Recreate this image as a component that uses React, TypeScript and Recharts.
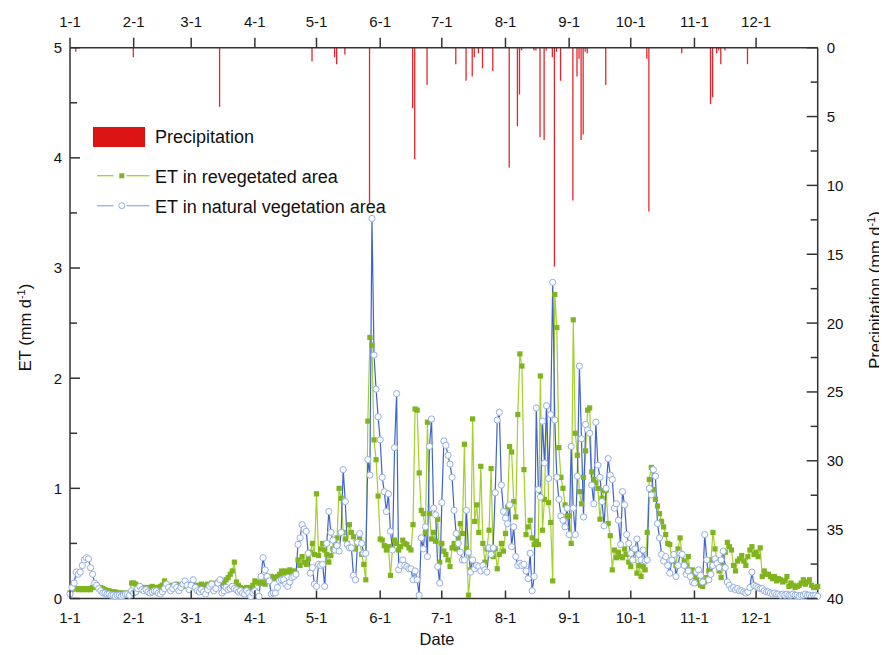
import {
    ComposedChart,
    Bar,
    Line,
    XAxis,
    YAxis,
} from 'recharts';

const FONT = '"Liberation Sans", Arial, sans-serif';

// first day of each month (day index 0 = 1 January)
const monthStarts = [0, 31, 59, 90, 120, 151, 181, 212, 243, 273, 304, 334];
const monthLabels = ['1-1', '2-1', '3-1', '4-1', '5-1', '6-1', '7-1', '8-1', '9-1', '10-1', '11-1', '12-1'];

const etTicks = [0, 0.5, 1, 1.5, 2, 2.5, 3, 3.5, 4, 4.5, 5];
const precipTicks = [0, 2.5, 5, 7.5, 10, 12.5, 15, 17.5, 20, 22.5, 25, 27.5, 30, 32.5, 35, 37.5, 40];

// daily ET in revegetated area (mm/d), one row per month
const etRevegetated = [
    [0.05, 0.08, 0.09, 0.09, 0.08, 0.09, 0.08, 0.09, 0.08, 0.09, 0.08, 0.1, 0.1, 0.11, 0.1, 0.1, 0.09, 0.08, 0.07, 0.07, 0.06, 0.06, 0.06, 0.05, 0.05, 0.05, 0.04, 0.05, 0.04, 0.05, 0.14],
    [0.14, 0.13, 0.1, 0.11, 0.09, 0.1, 0.08, 0.1, 0.09, 0.11, 0.1, 0.09, 0.1, 0.11, 0.12, 0.16, 0.12, 0.11, 0.1, 0.12, 0.11, 0.13, 0.1, 0.12, 0.11, 0.13, 0.12, 0.11],
    [0.13, 0.12, 0.1, 0.12, 0.11, 0.13, 0.12, 0.1, 0.13, 0.12, 0.14, 0.12, 0.13, 0.15, 0.16, 0.14, 0.15, 0.17, 0.19, 0.22, 0.25, 0.33, 0.15, 0.12, 0.1, 0.09, 0.08, 0.1, 0.09, 0.1, 0.12],
    [0.16, 0.15, 0.14, 0.14, 0.15, 0.13, 0.16, 0.17, 0.2, 0.18, 0.19, 0.2, 0.22, 0.25, 0.23, 0.25, 0.24, 0.26, 0.24, 0.25, 0.23, 0.35, 0.3, 0.38, 0.33, 0.31, 0.36, 0.42, 0.5, 0.4],
    [0.95, 0.39, 0.45, 0.5, 0.44, 0.4, 0.33, 0.39, 0.45, 0.5, 0.55, 1.0, 0.91, 0.6, 0.54, 0.5, 0.67, 0.6, 0.56, 0.45, 0.5, 0.54, 0.4, 0.31, 0.17, 1.61, 2.37, 2.3, 1.44, 1.26, 0.93],
    [0.54, 0.53, 0.48, 0.44, 0.47, 0.21, 0.45, 0.53, 0.5, 0.44, 0.47, 0.53, 0.5, 0.49, 0.46, 0.44, 0.67, 1.72, 1.71, 1.14, 0.8, 0.77, 0.6, 1.6, 0.77, 0.54, 0.6, 0.52, 0.72, 0.33],
    [0.5, 0.43, 0.4, 0.35, 0.29, 0.46, 0.5, 0.45, 0.55, 0.68, 0.59, 1.4, 0.45, 0.03, 0.26, 1.63, 0.7, 0.85, 0.6, 1.2, 0.5, 0.33, 0.45, 0.62, 1.18, 0.38, 0.45, 0.27, 0.4, 0.5, 0.43],
    [0.59, 0.83, 1.38, 1.33, 0.88, 0.74, 1.67, 2.22, 2.11, 1.17, 0.58, 0.65, 0.71, 0.55, 0.49, 0.52, 0.49, 2.02, 0.62, 0.9, 1.75, 0.87, 0.69, 0.16, 2.76, 2.46, 1.37, 1.1, 1.0, 0.85, 0.75],
    [0.75, 0.5, 2.53, 1.5, 1.3, 0.97, 0.86, 1.1, 1.34, 1.71, 1.73, 1.15, 1.08, 1.05, 1.0, 0.72, 0.91, 0.98, 0.98, 0.68, 0.57, 0.26, 0.44, 0.37, 0.42, 0.38, 0.37, 0.45, 0.4, 0.33],
    [0.29, 0.35, 0.44, 0.23, 0.3, 0.2, 0.29, 0.26, 0.6, 1.08, 1.19, 0.99, 0.9, 0.84, 0.77, 0.7, 0.65, 0.58, 0.5, 0.49, 0.34, 0.4, 0.3, 0.45, 0.55, 0.4, 0.34, 0.3, 0.38, 0.22, 0.26],
    [0.2, 0.17, 0.14, 0.12, 0.11, 0.15, 0.19, 0.25, 0.35, 0.6, 0.45, 0.35, 0.25, 0.19, 0.3, 0.42, 0.51, 0.47, 0.44, 0.3, 0.25, 0.34, 0.36, 0.39, 0.34, 0.3, 0.38, 0.44, 0.47, 0.4],
    [0.42, 0.38, 0.46, 0.2, 0.25, 0.22, 0.22, 0.2, 0.18, 0.2, 0.16, 0.18, 0.17, 0.15, 0.16, 0.2, 0.11, 0.14, 0.12, 0.1, 0.11, 0.12, 0.14, 0.17, 0.13, 0.15, 0.17, 0.12, 0.1, 0.1, 0.11],
];

// daily ET in natural vegetation area (mm/d), one row per month
const etNatural = [
    [0.04, 0.1, 0.14, 0.24, 0.22, 0.24, 0.3, 0.35, 0.37, 0.36, 0.28, 0.22, 0.14, 0.12, 0.09, 0.07, 0.05, 0.05, 0.04, 0.04, 0.03, 0.03, 0.02, 0.03, 0.03, 0.02, 0.03, 0.04, 0.04, 0.03, 0.07],
    [0.05, 0.06, 0.09, 0.11, 0.08, 0.07, 0.08, 0.06, 0.05, 0.06, 0.07, 0.07, 0.05, 0.04, 0.06, 0.09, 0.13, 0.1, 0.07, 0.09, 0.12, 0.1, 0.07, 0.1, 0.13, 0.16, 0.12, 0.08],
    [0.12, 0.17, 0.1, 0.07, 0.06, 0.08, 0.06, 0.04, 0.08, 0.11, 0.13, 0.07, 0.09, 0.14, 0.17, 0.05, 0.07, 0.1, 0.08, 0.09, 0.11, 0.09, 0.08, 0.06, 0.07, 0.05, 0.04, 0.07, 0.05, 0.02, 0.05],
    [0.07, 0.05, 0.02, 0.2, 0.37, 0.26, 0.2, 0.16, 0.04, 0.05, 0.05, 0.1, 0.16, 0.17, 0.17, 0.13, 0.11, 0.15, 0.19, 0.2, 0.22, 0.49, 0.55, 0.67, 0.63, 0.61, 0.41, 0.23, 0.28, 0.13],
    [0.11, 0.31, 0.3, 0.31, 0.11, 0.5, 0.79, 0.6, 0.53, 0.44, 0.48, 0.43, 0.6, 1.17, 0.88, 0.49, 0.46, 0.46, 0.21, 0.17, 0.51, 0.59, 0.5, 0.41, 0.41, 1.26, 1.12, 3.45, 2.21, 1.9, 1.65],
    [1.44, 1.1, 0.97, 0.79, 0.95, 0.61, 0.44, 1.37, 1.86, 0.26, 0.3, 0.35, 0.3, 0.29, 0.27, 0.27, 0.17, 0.25, 0.17, 0.03, 0.55, 0.45, 0.65, 0.38, 1.38, 1.63, 0.82, 0.76, 0.29, 0.14],
    [0.87, 1.43, 1.39, 1.3, 1.22, 1.1, 0.8, 0.59, 0.5, 0.42, 0.35, 0.35, 0.8, 0.42, 0.24, 0.35, 0.27, 0.3, 0.29, 0.25, 0.3, 0.26, 0.24, 0.46, 0.4, 0.46, 0.96, 1.62, 1.69, 1.03, 0.79],
    [0.73, 0.68, 0.85, 0.47, 0.65, 0.38, 0.3, 0.32, 0.3, 0.31, 0.25, 0.18, 0.41, 0.07, 0.2, 1.73, 0.99, 0.92, 1.61, 1.23, 1.75, 1.09, 1.67, 2.87, 1.62, 1.1, 0.9, 0.75, 0.71, 0.65, 0.82],
    [0.58, 1.38, 0.82, 0.58, 1.11, 2.11, 1.45, 0.74, 1.58, 1.53, 1.5, 1.03, 0.86, 1.6, 1.21, 1.1, 0.88, 0.66, 1.0, 1.27, 1.12, 1.08, 0.82, 0.86, 0.71, 0.49, 0.97, 0.85, 0.58, 0.5],
    [0.41, 0.35, 0.45, 0.54, 0.4, 0.35, 0.44, 0.34, 0.35, 1.0, 0.94, 1.17, 1.11, 0.68, 0.55, 0.4, 0.34, 0.38, 0.3, 0.23, 0.35, 0.4, 0.2, 0.3, 0.41, 0.4, 0.3, 0.22, 0.25, 0.2, 0.15],
    [0.14, 0.24, 0.26, 0.21, 0.15, 0.58, 0.35, 0.17, 0.22, 0.3, 0.36, 0.32, 0.28, 0.35, 0.43, 0.28, 0.15, 0.12, 0.09, 0.1, 0.08, 0.09, 0.07, 0.07, 0.06, 0.05, 0.06, 0.1, 0.24, 0.12],
    [0.11, 0.1, 0.09, 0.09, 0.07, 0.06, 0.06, 0.05, 0.04, 0.05, 0.04, 0.04, 0.03, 0.04, 0.03, 0.04, 0.03, 0.03, 0.04, 0.03, 0.03, 0.02, 0.03, 0.03, 0.04, 0.03, 0.03, 0.02, 0.03, 0.03, 0.02],
];

// rain days (day index) and amount (mm/d)
const precipDays = [3, 31, 73, 118, 129, 130, 134, 146, 167, 168, 174, 188, 193, 196, 197, 199, 201, 206, 214, 218, 219, 220, 226, 227, 229, 231, 232, 235, 236, 237, 239, 245, 247, 248, 249, 250, 251, 252, 261, 281, 282, 298, 312, 313, 315, 316, 317, 319, 330];
const precipValues = [0.3, 0.7, 4.3, 1.0, 0.7, 1.2, 0.5, 11.3, 4.4, 8.1, 2.7, 1.2, 2.4, 2.1, 0.7, 0.4, 1.5, 1.7, 8.7, 5.7, 3.4, 0.2, 0.2, 0.2, 6.5, 6.7, 0.2, 0.7, 15.9, 0.3, 2.4, 11.1, 2.1, 0.8, 6.7, 6.3, 0.3, 0.4, 2.7, 0.8, 11.9, 0.4, 4.1, 3.6, 0.4, 0.2, 1.2, 0.2, 1.2];

type Row = { day: number; reveg: number | null; natural: number | null; precip: number | null };

const buildData = (): Row[] => {
    const rows: Row[] = Array.from({ length: 365 }, (_, d) => ({ day: d, reveg: null, natural: null, precip: null }));
    monthStarts.forEach((start, m) => {
        etRevegetated[m].forEach((v, i) => { if (rows[start + i]) rows[start + i].reveg = v; });
        etNatural[m].forEach((v, i) => { if (rows[start + i]) rows[start + i].natural = v; });
    });
    precipDays.forEach((d, i) => { rows[d].precip = precipValues[i]; });
    return rows;
};

const data = buildData();

const AXIS = '#333';
const TXT = '#111';

const LeftTick = ({ x, y, payload }: any) => {
    const v = payload.value;
    const major = Math.abs(v - Math.round(v)) < 1e-6;
    return (
        <g>
            <line x1={x} x2={x + (major ? 10 : 7)} y1={y} y2={y} stroke={AXIS} strokeWidth={1.5} />
            {major && (
                <text x={x - 8} y={y} dy="0.36em" textAnchor="end" fontSize={15} fill={TXT} fontFamily={FONT}>
                    {v}
                </text>
            )}
        </g>
    );
};

const RightTick = ({ x, y, payload }: any) => {
    const v = payload.value;
    const major = v % 5 === 0;
    return (
        <g>
            <line x1={x} x2={x - (major ? 11 : 7)} y1={y} y2={y} stroke={AXIS} strokeWidth={1.5} />
            {major && (
                <text x={x + 9} y={y} dy="0.36em" textAnchor="start" fontSize={15} fill={TXT} fontFamily={FONT}>
                    {v}
                </text>
            )}
        </g>
    );
};

const labelOf = (v: number) => monthLabels[monthStarts.indexOf(v)] ?? '';

const TopTick = ({ x, y, payload }: any) => (
    <g>
        <line x1={x} x2={x} y1={y} y2={y - 10} stroke={AXIS} strokeWidth={1.5} />
        <text x={x} y={y - 21} textAnchor="middle" fontSize={15} fill={TXT} fontFamily={FONT}>
            {labelOf(payload.value)}
        </text>
    </g>
);

const BottomTick = ({ x, y, payload }: any) => (
    <g>
        <line x1={x} x2={x} y1={y} y2={y - 8} stroke={AXIS} strokeWidth={1.5} />
        <text x={x} y={y + 24.5} textAnchor="middle" fontSize={15} fill={TXT} fontFamily={FONT}>
            {labelOf(payload.value)}
        </text>
    </g>
);

const SquareDot = (props: any) => {
    const { cx, cy, index } = props;
    if (cx == null || cy == null) return <g key={`sq-${index}`} />;
    return <rect key={`sq-${index}`} x={cx - 2.6} y={cy - 2.6} width={5.2} height={5.2} fill="#80b41e" />;
};

const App = () => {
    return (
        <div style={{ position: 'relative', width: 879, height: 638, fontFamily: FONT }}>
            <ComposedChart
                width={875}
                height={638}
                data={data}
                margin={{ top: 0, right: 10.3, bottom: 17.5, left: 12 }}
            >
                <XAxis
                    xAxisId="top"
                    orientation="top"
                    dataKey="day"
                    type="number"
                    domain={[0, 364]}
                    ticks={monthStarts}
                    interval={0}
                    height={39.7}
                    tickSize={0}
                    tickMargin={0}
                    tickLine={false}
                    axisLine={{ stroke: AXIS, strokeWidth: 1.5 }}
                    tick={<TopTick />}
                />
                <XAxis
                    xAxisId="bottom"
                    orientation="bottom"
                    dataKey="day"
                    type="number"
                    domain={[0, 364]}
                    ticks={monthStarts}
                    interval={0}
                    height={30}
                    tickSize={0}
                    tickMargin={0}
                    tickLine={false}
                    axisLine={{ stroke: AXIS, strokeWidth: 1.5 }}
                    tick={<BottomTick />}
                />
                <YAxis
                    yAxisId="et"
                    orientation="left"
                    type="number"
                    domain={[0, 5]}
                    ticks={etTicks}
                    interval={0}
                    width={50}
                    tickSize={0}
                    tickMargin={0}
                    tickLine={false}
                    axisLine={{ stroke: AXIS, strokeWidth: 1.5 }}
                    tick={<LeftTick />}
                />
                <YAxis
                    yAxisId="precip"
                    orientation="right"
                    type="number"
                    domain={[0, 40]}
                    reversed
                    ticks={precipTicks}
                    interval={0}
                    width={55}
                    tickSize={0}
                    tickMargin={0}
                    tickLine={false}
                    axisLine={{ stroke: AXIS, strokeWidth: 1.5 }}
                    tick={<RightTick />}
                />
                <Bar
                    xAxisId="top"
                    yAxisId="precip"
                    dataKey="precip"
                    barSize={1.3}
                    fill="#e4262c"
                    isAnimationActive={false}
                />
                <Line
                    xAxisId="bottom"
                    yAxisId="et"
                    type="linear"
                    dataKey="reveg"
                    stroke="#a4cf2c"
                    strokeWidth={1.2}
                    dot={SquareDot}
                    activeDot={false}
                    isAnimationActive={false}
                />
                <Line
                    xAxisId="bottom"
                    yAxisId="et"
                    type="linear"
                    dataKey="natural"
                    stroke="#3f63cf"
                    strokeWidth={1.2}
                    dot={{ r: 3.1, fill: '#ffffff', stroke: '#93afe3', strokeWidth: 1 }}
                    activeDot={false}
                    isAnimationActive={false}
                />
            </ComposedChart>

            {/* legend and axis titles */}
            <svg
                width={879}
                height={646}
                style={{ position: 'absolute', left: 0, top: 0, pointerEvents: 'none' }}
                fontFamily={FONT}
            >
                <rect x={85} y={119} width={52} height={20} fill="#dc1414" />
                <text x={147} y={134.5} fontSize={18} fill={TXT}>Precipitation</text>

                <line x1={89} x2={105.5} y1={167.7} y2={167.7} stroke="#a4cf2c" strokeWidth={1.3} />
                <line x1={118.5} x2={141.5} y1={167.7} y2={167.7} stroke="#a4cf2c" strokeWidth={1.3} />
                <rect x={111.3} y={165.3} width={5} height={5} fill="#80b41e" />
                <text x={147} y={175} fontSize={18} fill={TXT}>ET in revegetated area</text>

                <line x1={89} x2={105.5} y1={197.7} y2={197.7} stroke="#93afe3" strokeWidth={1.3} />
                <line x1={118.5} x2={141.5} y1={197.7} y2={197.7} stroke="#93afe3" strokeWidth={1.3} />
                <circle cx={113.8} cy={197.7} r={3} fill="#fff" stroke="#93afe3" strokeWidth={1} />
                <text x={147} y={204.5} fontSize={18} fill={TXT}>ET in natural vegetation area</text>

                <text x={429} y={637} fontSize={16.5} textAnchor="middle" fill={TXT}>Date</text>

                <text transform="translate(23,319.5) rotate(-90)" fontSize={16.5} textAnchor="middle" fill={TXT}>
                    ET (mm d<tspan dy={-6} fontSize={11}>-1</tspan><tspan dy={6}>)</tspan>
                </text>
                <text transform="translate(873,282) rotate(-90)" fontSize={16.5} textAnchor="middle" fill={TXT}>
                    Precipitation (mm d<tspan dy={-6} fontSize={11}>-1</tspan><tspan dy={6}>)</tspan>
                </text>
            </svg>
        </div>
    );
};

export default App;
